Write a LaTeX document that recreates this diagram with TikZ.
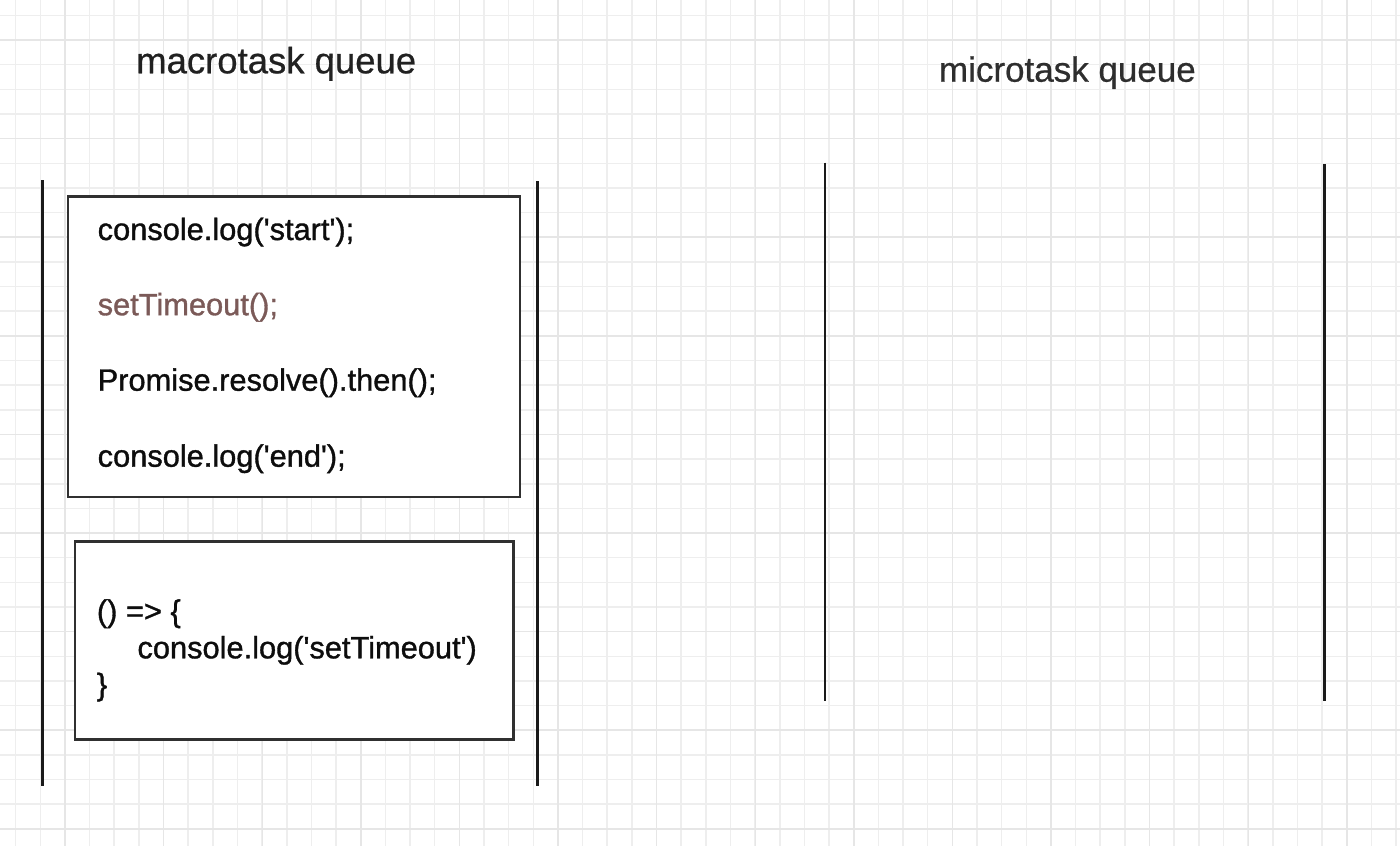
\documentclass[tikz,border=0pt]{standalone}
\usepackage{fontspec}
\newfontfamily\codefont{Liberation Sans}[FakeBold=1.1]
\newfontfamily\titlefont{Liberation Sans}[FakeBold=0.6]
\usetikzlibrary{positioning}
\definecolor{gridminor}{HTML}{EEEEEE}
\definecolor{gridmajor}{HTML}{E6E6E6}
\definecolor{wallcolor}{HTML}{1A1A1A}
\definecolor{boxline}{HTML}{303030}
\definecolor{timeoutbrown}{HTML}{7B5A58}
\tikzset{
	title/.style={anchor=base west, inner sep=0, text=black!87, font=\titlefont\fontsize{36.5}{42}\selectfont},
	code/.style={anchor=base west, inner sep=0, text=black!95, font=\codefont\fontsize{30.8}{36}\selectfont},
	taskbox/.style={draw=boxline, line width=2.7pt, fill=white, inner sep=0},
	wall/.style={draw=wallcolor, line width=2.6pt}
}
\begin{document}
\begin{tikzpicture}[x=1pt, y=-1pt]
	\useasboundingbox (0,0) rectangle (1400,846);
	\fill[white] (0,0) rectangle (1400,846);
	\foreach \i in {0,...,56}
		\draw[gridminor, line width=1.5pt] ({15.6+24.65*\i},0) -- ({15.6+24.65*\i},846);
	\foreach \i in {0,...,33}
		\draw[gridminor, line width=1.5pt] (0,{15.4+24.65*\i}) -- (1400,{15.4+24.65*\i});
	\foreach \i in {0,...,13}
		\draw[gridmajor, line width=1.5pt] ({65.1+98.6*\i},0) -- ({65.1+98.6*\i},846);
	\foreach \i in {0,...,8}
		\draw[gridmajor, line width=1.5pt] (0,{40+98.6*\i}) -- (1400,{40+98.6*\i});

	\node(macro) [title] at (136,73.3) {macrotask queue};
	\node(micro) [title, font=\titlefont\fontsize{35}{40}\selectfont, text=black!82] at (938.8,81.7) {microtask queue};

	\coordinate(macroTL) at (42.5,180);
	\coordinate(macroBL) at (42.5,786);
	\coordinate(macroTR) at (537.5,181);
	\coordinate(macroBR) at (537.5,786);
	\coordinate(microTL) at (825,162.7);
	\coordinate(microBL) at (825,700.7);
	\coordinate(microTR) at (1324.2,164);
	\coordinate(microBR) at (1324.2,700.7);

	\draw[wall] (macroTL) -- (macroBL);
	\draw[wall] (macroTR) -- (macroBR);
	\draw[wall] (microTL) -- (microBL);
	\draw[wall] (microTR) -- (microBR);

	\node(script) [taskbox, minimum width=452, minimum height=300.3] at (294,346.9) {};
	\node(callback) [taskbox, minimum width=438.3, minimum height=197.6] at (294.2,640.5) {};

	\node(start) [code] at (97.5,240) {console.log(\textquotesingle start\textquotesingle);};
	\node(timeout) [code, below=75.2pt of start.base west, anchor=base west, text=timeoutbrown] {setTimeout();};
	\node(promise) [code, below=75.5pt of timeout.base west, anchor=base west] {Promise.resolve().then();};
	\node(end) [code, below=76pt of promise.base west, anchor=base west] {console.log(\textquotesingle end\textquotesingle);};

	\node(arrow) [code] at (96.7,621.7) {() => \{};
	\node(log) [code, below=36.6pt of arrow.base west, anchor=base west, xshift=40.6pt] {console.log(\textquotesingle setTimeout\textquotesingle)};
	\node(close) [code, below=73.3pt of arrow.base west, anchor=base west] {\}};

\end{tikzpicture}
\end{document}
